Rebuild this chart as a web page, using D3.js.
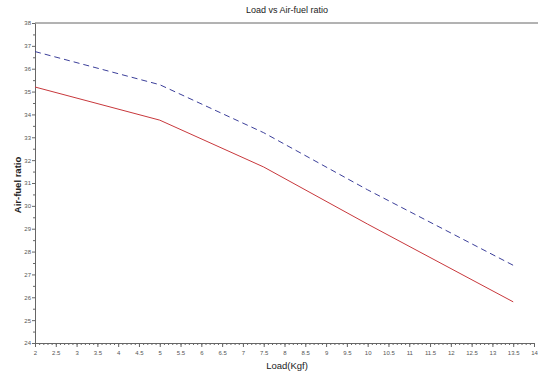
<!DOCTYPE html>
<html>
<head>
<meta charset="utf-8">
<script src="https://cdn.jsdelivr.net/npm/d3@7"></script>
<style>
  body { margin: 0; background: #fff; }
  text { font-family: "Liberation Sans", Arial, sans-serif; }
</style>
</head>
<body>
<svg id="chart" width="538" height="374"></svg>
<script>
// data
const loads = [2, 5, 7.5, 10, 13.5];
const afrDashed = [36.75, 35.3, 33.2, 30.7, 27.4];
const afrSolid = [35.2, 33.75, 31.7, 29.2, 25.8];
const xTicks = d3.range(2, 14.01, 0.5);
const yTicks = d3.range(24, 38.01, 1);

const margin = { top: 23, right: 4, bottom: 31, left: 35 },
  width = 538 - margin.left - margin.right,
  height = 374 - margin.top - margin.bottom;

const svg = d3.select("#chart")
  .append("g")
  .attr("transform", "translate(" + margin.left + "," + margin.top + ")");

const x = d3.scaleLinear().domain([2, 14]).range([0, 499]);
const y = d3.scaleLinear().domain([24, 38]).range([height, 0]);

// title
svg.append("text")
  .attr("x", 252)
  .attr("y", -10)
  .attr("text-anchor", "middle")
  .style("font-size", "9px")
  .attr("fill", "#222")
  .text("Load vs Air-fuel ratio");

// top frame line
svg.append("line")
  .attr("x1", 0).attr("x2", width + margin.right)
  .attr("y1", 0).attr("y2", 0)
  .attr("stroke", "#666").attr("stroke-width", 1);

// minor ticks on x (every 0.1)
svg.append("g")
  .attr("transform", `translate(0,${height})`)
  .call(d3.axisBottom(x).tickValues(d3.range(2, 14.01, 0.1)).tickSize(2).tickFormat(""))
  .call(g => g.select(".domain").remove())
  .selectAll("line").attr("stroke", "#666");

// major x axis
const xAxis = svg.append("g")
  .attr("transform", `translate(0,${height})`)
  .call(d3.axisBottom(x).tickValues(xTicks).tickSize(4).tickSizeOuter(0)
    .tickFormat(d => d3.format("~g")(d)));
xAxis.select(".domain").attr("stroke", "#666");
xAxis.selectAll("line").attr("stroke", "#666");
xAxis.selectAll("text").style("font-size", "6px").attr("fill", "#555").attr("dy", "0.9em");

// minor ticks on y
svg.append("g")
  .call(d3.axisLeft(y).tickValues(d3.range(24.5, 38, 1)).tickSize(2).tickFormat(""))
  .call(g => g.select(".domain").remove())
  .selectAll("line").attr("stroke", "#666");

const yAxis = svg.append("g")
  .call(d3.axisLeft(y).tickValues(yTicks).tickSize(3).tickPadding(1).tickSizeOuter(0));
yAxis.select(".domain").attr("stroke", "#666");
yAxis.selectAll("line").attr("stroke", "#666");
yAxis.selectAll("text").style("font-size", "6px").attr("fill", "#555");

// axis labels
svg.append("text")
  .attr("transform", `translate(252, ${height + 26})`)
  .style("text-anchor", "middle")
  .style("font-size", "9.5px")
  .attr("fill", "#222")
  .text("Load(Kgf)");

svg.append("text")
  .attr("transform", "rotate(-90)")
  .attr("x", -162)
  .attr("y", -14)
  .style("text-anchor", "middle")
  .style("font-size", "9.5px")
  .style("font-weight", "bold")
  .attr("fill", "#222")
  .text("Air-fuel ratio");

const line = d3.line()
  .x((d, i) => x(loads[i]))
  .y(d => y(d));

svg.append("path")
  .datum(afrDashed)
  .attr("fill", "none")
  .attr("stroke", "#3c3f9a")
  .attr("stroke-width", 1)
  .style("stroke-dasharray", "6, 4")
  .attr("d", line);

svg.append("path")
  .datum(afrSolid)
  .attr("fill", "none")
  .attr("stroke", "#c8383c")
  .attr("stroke-width", 1)
  .attr("d", line);
</script>
</body>
</html>
